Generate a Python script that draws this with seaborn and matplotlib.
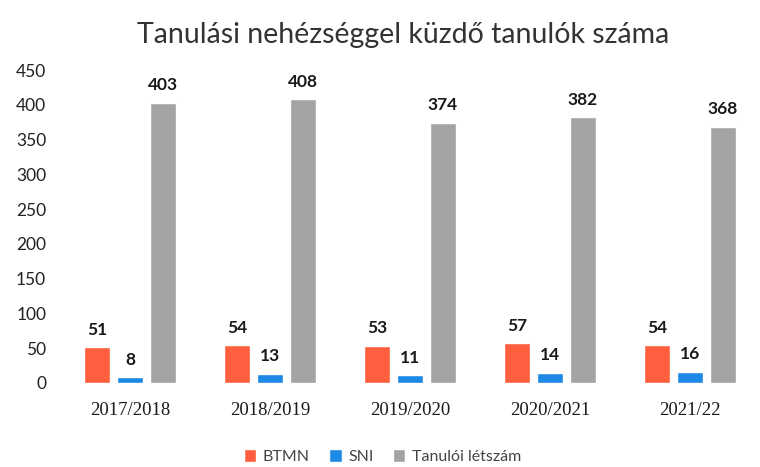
import matplotlib
matplotlib.use("Agg")
import matplotlib.pyplot as plt
import seaborn as sns
import pandas as pd

years = ["2017/2018", "2018/2019", "2019/2020", "2020/2021", "2021/22"]
series = ["BTMN", "SNI", "Tanulói létszám"]
btmn = [51, 54, 53, 57, 54]
sni = [8, 13, 11, 14, 16]
total = [403, 408, 374, 382, 368]
yticks = [0, 50, 100, 150, 200, 250, 300, 350, 400, 450]
colors = ["#FF5F3F", "#1E88E5", "#A3A3A3"]

rows = []
for name, vals in zip(series, [btmn, sni, total]):
    for y, v in zip(years, vals):
        rows.append({"year": y, "series": name, "value": v})
df = pd.DataFrame(rows)

sns.set_theme(style="white")
plt.rcParams["font.family"] = ["Lato", "DejaVu Sans"]

fig = plt.figure(figsize=(7.6, 4.67), dpi=100)
ax = fig.add_axes([0.079, 0.18, 0.921, 0.67])

sns.barplot(data=df, x="year", y="value", hue="series", order=years,
            hue_order=series, palette=colors, width=0.7, gap=0.2,
            saturation=1, ax=ax, legend=True)

for cont in ax.containers:
    ax.bar_label(cont, fmt="%d", padding=7, fontsize=12.5, fontweight="bold",
                 color="#1a1a1a")

ax.set_ylim(0, 450)
ax.set_xlim(-0.5, 4.5)
ax.set_yticks(yticks)
ax.set_yticklabels([str(t) for t in yticks], fontsize=12.5, color="#222222")
ax.set_xticks(range(len(years)))
ax.set_xticklabels(years, fontsize=13.5, color="#1a1a1a", family="Liberation Serif")
ax.tick_params(axis="both", length=0)
ax.tick_params(axis="y", pad=10)
ax.tick_params(axis="x", pad=14)
ax.set_xlabel("")
ax.set_ylabel("")
for s in ax.spines.values():
    s.set_visible(False)

leg = ax.legend(loc="center", bbox_to_anchor=(0.5 - 0.079 / 2, -0.236),
                ncol=3, frameon=False, fontsize=11.5, handlelength=0.8,
                handleheight=0.8, handletextpad=0.4, columnspacing=1.2)
for t in leg.get_texts():
    t.set_color("#444444")

fig.text(0.53, 0.925, "Tanulási nehézséggel küzdő tanulók száma",
         ha="center", va="center", fontsize=20.5, color="#333333")

fig.savefig("out.png", dpi=100)
